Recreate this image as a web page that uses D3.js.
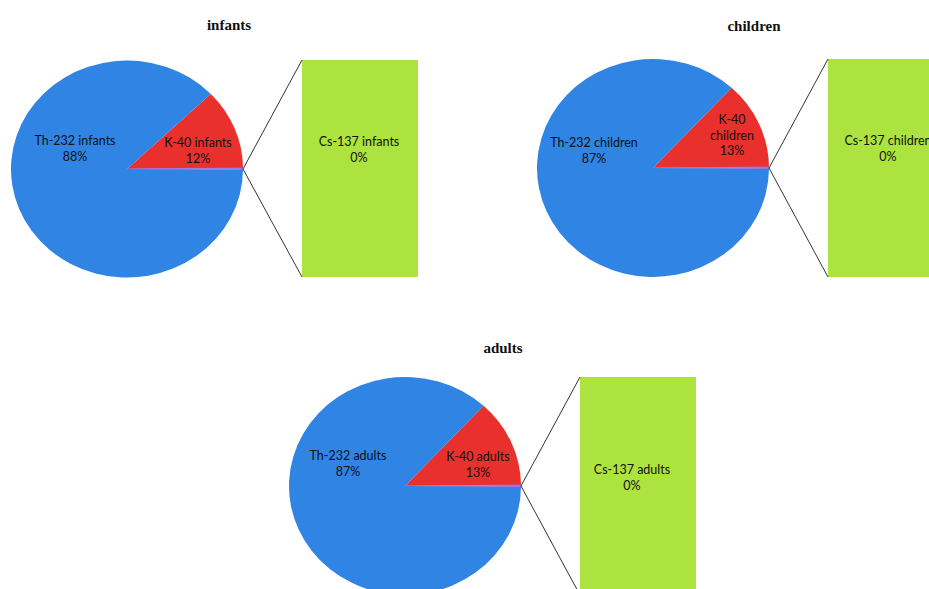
<!DOCTYPE html>
<html>
<head>
<meta charset="utf-8">
<script src="https://cdn.jsdelivr.net/npm/d3@7"></script>
<style>
  html, body { margin: 0; padding: 0; background: #ffffff; }
  svg { display: block; }
</style>
</head>
<body>
<svg id="chart" width="929" height="589"></svg>
<script>
// Share of dose (%) by radionuclide for each age group
const groups = ["infants", "children", "adults"];
const nuclides = ["Th-232", "K-40", "Cs-137"];
const th232 = [87.7, 86.7, 86.7];
const k40 = [12.0, 13.0, 13.0];
const cs137 = [0.3, 0.3, 0.3];
// Cs-137 is split out into the secondary bar
const secondary = ["Cs-137"];

const colors = { "Th-232": "#2f84e4", "K-40": "#e9302d", "Cs-137": "#9b74e0" };
const barColor = "#ade33f";

// Panel placement: pie centre, radii, bar box and title position
const panels = [
  { cx: 127, cy: 169, rx: 116, ry: 108.5, barX: 302, barY: 60, barW: 116, barH: 217, titleX: 229, titleY: 30,
    labels: { "Th-232": [75, 141], "K-40": [198, 143], "Cs-137": [359, 142] }, k40Lines: 2 },
  { cx: 653, cy: 168, rx: 116, ry: 109, barX: 828, barY: 59, barW: 116, barH: 218, titleX: 754, titleY: 31,
    labels: { "Th-232": [594, 143], "K-40": [732, 120], "Cs-137": [888, 141] }, k40Lines: 3 },
  { cx: 405, cy: 486, rx: 116, ry: 109, barX: 580, barY: 377, barW: 116, barH: 218, titleX: 503, titleY: 353,
    labels: { "Th-232": [348, 456], "K-40": [478, 457], "Cs-137": [632, 470] }, k40Lines: 2 }
];

const svg = d3.select("#chart");
const fmt = d3.format(".0%");
const labelFont = "Lato, 'Open Sans', sans-serif";

groups.forEach((g, i) => {
  const p = panels[i];
  const values = { "Th-232": th232[i], "K-40": k40[i], "Cs-137": cs137[i] };
  const total = d3.sum(nuclides, n => values[n]);
  const otherVal = d3.sum(secondary, n => values[n]);

  // Pie order: K-40, the "other" wedge (secondary), then Th-232; the other wedge sits at 3 o'clock
  const order = ["K-40", "Cs-137", "Th-232"];
  const tau = 2 * Math.PI;
  const start = Math.PI / 2 - (values["K-40"] / total) * tau - (otherVal / total) * tau / 2;
  const pie = d3.pie().sort(null).value(n => values[n]).startAngle(start).endAngle(start + tau);
  const arcs = pie(order);
  const arc = d3.arc().innerRadius(0).outerRadius(p.rx);

  const panel = svg.append("g");

  // title
  panel.append("text")
    .attr("x", p.titleX).attr("y", p.titleY)
    .attr("text-anchor", "middle")
    .attr("font-family", "'Liberation Serif', 'DejaVu Serif', serif")
    .attr("font-weight", "bold")
    .attr("font-size", 15)
    .attr("fill", "#111")
    .text(g);

  // pie, squashed vertically into an ellipse
  const pieG = panel.append("g")
    .attr("transform", `translate(${p.cx},${p.cy}) scale(1,${p.ry / p.rx})`);
  pieG.selectAll("path")
    .data(arcs)
    .join("path")
    .attr("d", arc)
    .attr("fill", d => colors[d.data])
    .attr("stroke", d => d.data === "Cs-137" ? colors["Cs-137"] : "none")
    .attr("stroke-width", 0.8);

  // stacked secondary bar
  const y = d3.scaleLinear().domain([0, otherVal]).range([p.barY + p.barH, p.barY]);
  let acc = 0;
  secondary.forEach(n => {
    panel.append("rect")
      .attr("x", p.barX)
      .attr("y", y(acc + values[n]))
      .attr("width", p.barW)
      .attr("height", y(acc) - y(acc + values[n]))
      .attr("fill", barColor);
    acc += values[n];
  });

  // connector lines from the wedge tip to the bar corners
  const tipX = p.cx + p.rx, tipY = p.cy;
  [y(otherVal), y(0)].forEach(yy => {
    panel.append("line")
      .attr("x1", tipX).attr("y1", tipY)
      .attr("x2", p.barX).attr("y2", yy)
      .attr("stroke", "#333").attr("stroke-width", 1);
  });

  // data labels
  const addLabel = (lines, pos) => {
    const t = panel.append("text")
      .attr("text-anchor", "middle")
      .attr("font-family", labelFont)
      .attr("font-size", 12.5)
      .attr("fill", "#111");
    lines.forEach((ln, k) => {
      t.append("tspan").attr("x", pos[0]).attr("y", pos[1] + 4 + k * 15.5).text(ln);
    });
  };
  addLabel([`Th-232 ${g}`, fmt(values["Th-232"] / total)], p.labels["Th-232"]);
  if (p.k40Lines === 3) addLabel(["K-40", g, fmt(values["K-40"] / total)], p.labels["K-40"]);
  else addLabel([`K-40 ${g}`, fmt(values["K-40"] / total)], p.labels["K-40"]);
  addLabel([`Cs-137 ${g}`, fmt(values["Cs-137"] / total)], p.labels["Cs-137"]);
});
</script>
</body>
</html>
